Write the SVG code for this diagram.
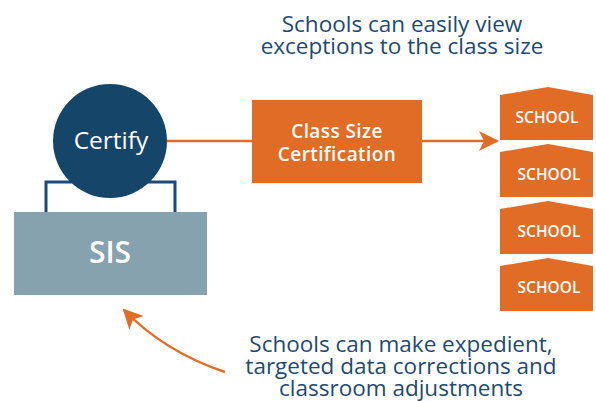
<svg xmlns="http://www.w3.org/2000/svg" width="596" height="401" viewBox="0 0 596 401">
<style>
.cap{font-family:"Open Sans","Liberation Sans",sans-serif;fill:#1f4a6e;font-size:22.5px;text-anchor:middle}
.wt{font-family:"Open Sans","Liberation Sans",sans-serif;fill:#ffffff;text-anchor:middle}
.sch{fill:#e06c26}
.conn{stroke:#e06c26;stroke-width:2.5;fill:none}
</style>
<defs>
<marker id="ah" viewBox="0 0 10 10" refX="9" refY="5" markerWidth="8" markerHeight="8" orient="auto" markerUnits="strokeWidth">
<path d="M0,0 L10,5 L0,10 L2.5,5 Z" fill="#e06c26"/>
</marker>
</defs>
<rect width="596" height="401" fill="#ffffff"/>
<g id="connectors">
<line class="conn" x1="167" y1="141" x2="252" y2="141"/>
<line class="conn" x1="422" y1="141" x2="497" y2="141" marker-end="url(#ah)"/>
<path class="conn" d="M225,372 Q165,352 124,310" marker-end="url(#ah)"/>
<path d="M46,212 V182 H175 V212" fill="none" stroke="#1b4a78" stroke-width="3"/>
</g>
<g id="sis">
<rect x="14" y="212" width="193" height="83" fill="#86a2ae"/>
<text class="wt" x="110" y="263" font-size="30" font-weight="600">SIS</text>
</g>
<g id="certify">
<circle cx="110" cy="141" r="57" fill="#16456a"/>
<text class="wt" x="111" y="149" font-size="24.5">Certify</text>
</g>
<g id="class-size">
<rect x="252" y="100" width="170" height="83" fill="#e06c26"/>
<text class="wt" x="337" y="138" font-size="19" font-weight="600" letter-spacing="0.4">Class Size</text>
<text class="wt" x="337" y="161" font-size="19" font-weight="600" letter-spacing="0.4">Certification</text>
</g>
<g id="school1">
<path class="sch" d="M500,95 L548,87 L593,95 V140 H500 Z"/>
<text class="wt" x="547" y="123" font-size="15.5" font-weight="600">SCHOOL</text>
</g>
<g id="school2">
<path class="sch" d="M500,152 L548,144 L593,152 V197 H500 Z"/>
<text class="wt" x="549" y="180" font-size="15.5" font-weight="600">SCHOOL</text>
</g>
<g id="school3">
<path class="sch" d="M500,209 L548,201 L593,209 V254 H500 Z"/>
<text class="wt" x="549" y="237" font-size="15.5" font-weight="600">SCHOOL</text>
</g>
<g id="school4">
<path class="sch" d="M500,266 L548,258 L593,266 V311 H500 Z"/>
<text class="wt" x="549" y="293" font-size="15.5" font-weight="600">SCHOOL</text>
</g>
<g id="caption-top">
<text class="cap" x="402" y="32">Schools can easily view</text>
<text class="cap" x="402" y="54">exceptions to the class size</text>
</g>
<g id="caption-bottom">
<text class="cap" x="401" y="352">Schools can make expedient,</text>
<text class="cap" x="401" y="374">targeted data corrections and</text>
<text class="cap" x="401" y="396">classroom adjustments</text>
</g>
</svg>
